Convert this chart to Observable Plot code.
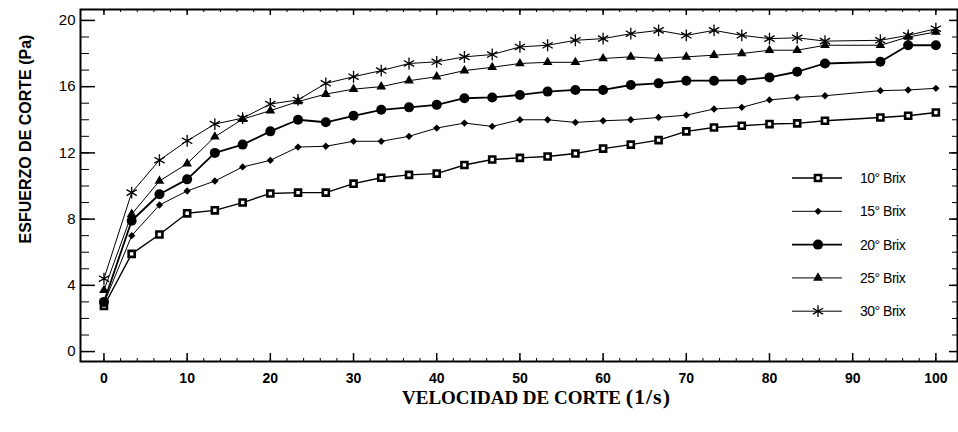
<!DOCTYPE html>
<html><head><meta charset="utf-8">
<script src="https://cdn.jsdelivr.net/npm/d3@7"></script>
<script src="https://cdn.jsdelivr.net/npm/@observablehq/plot@0.6"></script>
<style>html,body{margin:0;padding:0;background:#fff} svg{display:block}</style>
</head><body><div id="chart"></div>
<script>
// ---- data ----
const shearRate = [0, 3.33, 6.67, 10, 13.33, 16.67, 20, 23.33, 26.67, 30, 33.33, 36.67, 40, 43.33, 46.67, 50, 53.33, 56.67, 60, 63.33, 66.67, 70, 73.33, 76.67, 80, 83.33, 86.67, 93.33, 96.67, 100];
const brix10 = [2.75, 5.9, 7.07, 8.35, 8.53, 9.0, 9.55, 9.6, 9.6, 10.14, 10.5, 10.67, 10.75, 11.27, 11.6, 11.7, 11.78, 11.96, 12.26, 12.5, 12.77, 13.3, 13.53, 13.64, 13.74, 13.78, 13.94, 14.14, 14.24, 14.44];
const brix15 = [2.9, 7.0, 8.85, 9.7, 10.3, 11.15, 11.55, 12.35, 12.4, 12.7, 12.7, 13.0, 13.5, 13.8, 13.6, 14.0, 14.0, 13.84, 13.94, 14.0, 14.14, 14.28, 14.65, 14.75, 15.2, 15.35, 15.45, 15.76, 15.8, 15.9];
const brix20 = [3.0, 7.9, 9.5, 10.4, 12.0, 12.5, 13.3, 14.0, 13.85, 14.24, 14.6, 14.75, 14.9, 15.3, 15.35, 15.5, 15.7, 15.8, 15.8, 16.1, 16.2, 16.36, 16.36, 16.4, 16.56, 16.9, 17.4, 17.5, 18.5, 18.5];
const brix25 = [3.7, 8.3, 10.3, 11.35, 12.97, 14.04, 14.55, 15.1, 15.55, 15.85, 16.0, 16.36, 16.6, 16.97, 17.17, 17.4, 17.47, 17.47, 17.7, 17.8, 17.7, 17.8, 17.9, 18.0, 18.2, 18.2, 18.5, 18.5, 19.0, 19.3];
const brix30 = [4.4, 9.6, 11.56, 12.73, 13.74, 14.1, 14.95, 15.2, 16.2, 16.6, 16.97, 17.4, 17.5, 17.8, 17.94, 18.4, 18.5, 18.8, 18.9, 19.2, 19.4, 19.1, 19.4, 19.1, 18.9, 18.95, 18.75, 18.8, 19.1, 19.5];
const seriesNames = ["10° Brix", "15° Brix", "20° Brix", "25° Brix", "30° Brix"];
const xMajorTicks = [0, 10, 20, 30, 40, 50, 60, 70, 80, 90, 100];
const xMinorTicks = [0, 2, 4, 6, 8, 10, 12, 14, 16, 18, 20, 22, 24, 26, 28, 30, 32, 34, 36, 38, 40, 42, 44, 46, 48, 50, 52, 54, 56, 58, 60, 62, 64, 66, 68, 70, 72, 74, 76, 78, 80, 82, 84, 86, 88, 90, 92, 94, 96, 98, 100];
const yMajorTicks = [0, 4, 8, 12, 16, 20];
const yMinorTicks = [0, 1, 2, 3, 4, 5, 6, 7, 8, 9, 10, 11, 12, 13, 14, 15, 16, 17, 18, 19, 20];
const xTitle = "VELOCIDAD DE CORTE ";
const xTitleUnit = "(1/s)";
const yTitle = "ESFUERZO DE CORTE (Pa)";

// ---- styles ----
const seriesValues = [brix10, brix15, brix20, brix25, brix30];
const styles = [
  {symbol: "square", d3sym: d3.symbolSquare, r: 3.4, fill: "white", stroke: "black", sw: 2.6, lw: 1.4},
  {symbol: "diamond2", d3sym: d3.symbolDiamond2, r: 3.3, fill: "black", stroke: "none", sw: 0, lw: 1},
  {symbol: "circle", d3sym: d3.symbolCircle, r: 5, fill: "black", stroke: "none", sw: 0, lw: 1.8},
  {symbol: "triangle", d3sym: d3.symbolTriangle, r: 3.6, fill: "black", stroke: "none", sw: 0, lw: 1},
  {symbol: "asterisk", d3sym: d3.symbolAsterisk, r: 5.6, fill: "none", stroke: "black", sw: 1.3, lw: 1}
];

const W = 958, H = 432, mL = 80, mR = 1, mT = 9, mB = 71;
const iw = W - mL - mR, ih = H - mT - mB;

const rowsBySeries = seriesNames.map((name, i) =>
  shearRate.map((x, j) => ({x, y: seriesValues[i][j], s: name})));

const dataMarks = rowsBySeries.flatMap((rows, i) => {
  const st = styles[i];
  return [
    Plot.line(rows, {x: "x", y: "y", stroke: "black", strokeWidth: st.lw}),
    Plot.dot(rows, {x: "x", y: "y", symbol: st.symbol, r: st.r, fill: st.fill, stroke: st.stroke, strokeWidth: st.sw})
  ];
});

const svgEl = Plot.plot({
  width: W, height: H,
  marginLeft: mL, marginRight: mR, marginTop: mT, marginBottom: mB,
  style: {fontFamily: "'Liberation Sans', Arial, sans-serif", fontSize: "14px", background: "white", color: "black"},
  x: {domain: [-2.82, 102.6]},
  y: {domain: [-0.6, 20.66]},
  marks: [
    Plot.tickX(xMinorTicks, {x: d => d, insetTop: ih - 3, stroke: "black", strokeWidth: 1}),
    Plot.tickX(xMajorTicks, {x: d => d, insetTop: ih - 8, stroke: "black", strokeWidth: 1.5}),
    Plot.tickX(xMinorTicks, {x: d => d, insetBottom: ih - 3, stroke: "black", strokeWidth: 1}),
    Plot.tickX(xMajorTicks, {x: d => d, insetBottom: ih - 6, stroke: "black", strokeWidth: 1.5}),
    Plot.tickY(yMinorTicks, {y: d => d, insetRight: iw - 9, stroke: "black", strokeWidth: 1}),
    Plot.tickY(yMajorTicks, {y: d => d, insetRight: iw - 15, stroke: "black", strokeWidth: 1.5}),
    Plot.tickY(yMinorTicks, {y: d => d, insetLeft: iw - 5, stroke: "black", strokeWidth: 1}),
    Plot.tickY(yMajorTicks, {y: d => d, insetLeft: iw - 8, stroke: "black", strokeWidth: 1.5}),
    Plot.axisX({ticks: xMajorTicks, tickSize: 0, tickPadding: 12, label: null, fontSize: 14, fontWeight: "bold", tickFormat: d => String(d)}),
    Plot.axisY({ticks: yMajorTicks, tickSize: 0, tickPadding: 5, label: null, fontSize: 15, tickFormat: d => String(d)}),
    ...dataMarks,
    Plot.frame({stroke: "black", strokeWidth: 2})
  ]
});

document.getElementById("chart").appendChild(svgEl);
const svg = d3.select(svgEl);

// legend
const leg = svg.append("g").attr("class", "legend").attr("text-anchor", "start");
seriesNames.forEach((name, i) => {
  const st = styles[i];
  const cy = 178 + i * 33.3;
  leg.append("line").attr("x1", 792).attr("x2", 842).attr("y1", cy).attr("y2", cy)
    .attr("stroke", "black").attr("stroke-width", st.lw);
  leg.append("path").attr("transform", `translate(818,${cy})`)
    .attr("d", d3.symbol(st.d3sym, Math.PI * st.r * st.r)())
    .attr("fill", st.fill).attr("stroke", st.stroke).attr("stroke-width", st.sw);
  leg.append("text").attr("x", 860).attr("y", cy).attr("dy", "0.36em").attr("text-anchor", "start")
    .attr("font-family", "'Liberation Sans', Arial, sans-serif").attr("font-size", 14)
    .attr("letter-spacing", "-0.5").attr("fill", "black").text(name);
});

// axis titles
const xt = svg.append("text").attr("x", 402).attr("y", 404).attr("text-anchor", "start")
  .attr("font-family", "'Liberation Serif', 'Times New Roman', serif").attr("font-weight", "bold").attr("fill", "black");
xt.append("tspan").attr("font-size", 19).text(xTitle);
xt.append("tspan").attr("font-size", 22).attr("letter-spacing", "1").text(xTitleUnit);

svg.append("text").attr("transform", "translate(31,139) rotate(-90)").attr("text-anchor", "middle")
  .attr("font-family", "'Liberation Sans', Arial, sans-serif").attr("font-weight", "bold").attr("font-size", 16)
  .attr("fill", "black").text(yTitle);
</script>
</body></html>
